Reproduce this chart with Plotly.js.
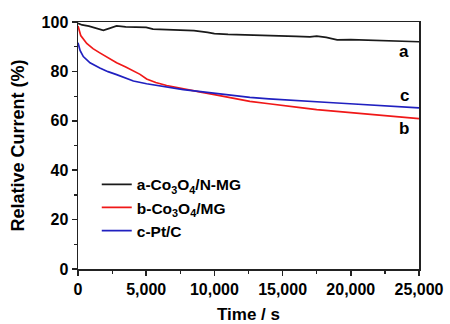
<!DOCTYPE html>
<html><head><meta charset="utf-8">
<script src="https://cdn.plot.ly/plotly-3.0.1.min.js"></script>
<style>body{margin:0;background:#fff}#c{width:450px;height:324px}</style>
</head><body><div id="c"></div>
<script>
const tA = [0,300,800,1300,1860,2300,2830,3500,4200,5000,5500,6500,7500,8500,9500,10000,11000,12000,13000,14000,15000,16000,17000,17500,18200,19000,20000,21000,22000,23000,24000,25000];
const vA = [99.5,98.8,98.3,97.6,96.6,97.4,98.4,98.0,97.9,97.8,97.1,97.0,96.9,96.5,95.8,95.3,95.0,94.9,94.8,94.6,94.5,94.2,94.0,94.3,93.8,92.8,92.9,92.7,92.6,92.5,92.4,92.0];
const tB = [0,200,640,1100,1600,2200,2830,3500,4060,4550,5030,5700,6500,7720,9000,10000,11300,12600,14000,15000,16300,17500,18700,19940,21200,22400,23700,25000];
const vB = [98.4,94.5,91.3,89.2,87.5,85.4,83.5,81.8,80.3,78.8,76.9,75.5,74.3,72.9,71.6,70.6,69.2,67.9,66.9,66.1,65.3,64.5,63.9,63.2,62.6,62.1,61.5,60.9];
const tC = [0,150,390,880,1600,2200,2830,3500,4060,5030,6500,7720,9000,10000,11300,12600,14000,15000,16300,17500,18700,19940,21200,22400,23700,25000];
const vC = [91.6,88.5,86.0,83.5,81.4,79.9,78.7,77.2,76.1,75.0,73.7,72.6,71.8,71.1,70.3,69.5,68.9,68.5,68.1,67.7,67.3,66.9,66.5,66.1,65.7,65.2];
const names = ['a-Co<sub>3</sub>O<sub>4</sub>/N-MG','b-Co<sub>3</sub>O<sub>4</sub>/MG','c-Pt/C'];
const colors = ['#1a1a1a','#f01818','#2020c0'];
const xTicks = [0,5000,10000,15000,20000,25000];
const yTicks = [0,20,40,60,80,100];
const endLabels = ['a','b','c'];
const endLabelY = [88.2,57,70.4];

const traces = [[tA,vA],[tB,vB],[tC,vC]].map((d,i)=>({
  x:d[0], y:d[1], type:'scatter', mode:'lines', name:names[i],
  line:{color:colors[i], width:1.7}
}));
const font = {family:'Liberation Sans, Arial, sans-serif', color:'#000'};
const layout = {
  width:450, height:324,
  margin:{l:78, r:31, t:22, b:55},
  paper_bgcolor:'#fff', plot_bgcolor:'#fff',
  font:{...font, size:14},
  xaxis:{range:[0,25000], tickvals:xTicks, ticktext:xTicks.map(v=>v.toLocaleString('en-US')),
    showgrid:false, zeroline:false, showline:true, linecolor:'#222', linewidth:1.5, mirror:true,
    ticks:'outside', ticklen:5, tickwidth:1.5, tickcolor:'#222',
    minor:{tickvals:[2500,7500,12500,17500,22500], ticks:'outside', ticklen:3, tickwidth:1.2, tickcolor:'#222'},
    tickfont:{...font, size:16, weight:'bold'},
    title:{text:'<b>Time / s</b>', font:{...font,size:17}, standoff:12}},
  yaxis:{range:[0,100], tickvals:yTicks,
    showgrid:false, zeroline:false, showline:true, linecolor:'#222', linewidth:1.5, mirror:true,
    ticks:'outside', ticklen:5, tickwidth:1.5, tickcolor:'#222',
    minor:{tickvals:[10,30,50,70,90], ticks:'outside', ticklen:3, tickwidth:1.2, tickcolor:'#222'},
    tickfont:{...font, size:16, weight:'bold'},
    title:{text:'<b>Relative Current (%)</b>', font:{...font,size:18}, standoff:12}},
  legend:{x:0.055, y:0.41, xanchor:'left', yanchor:'top', bgcolor:'rgba(0,0,0,0)',
    font:{...font,size:15.5, weight:'bold'}, tracegroupgap:0, itemwidth:30},
  showlegend:true,
  annotations: endLabels.map((t,i)=>({x:23900, y:endLabelY[i], xref:'x', yref:'y', text:'<b>'+t+'</b>', showarrow:false,
    font:{...font,size:17}}))
};
Plotly.newPlot('c', traces, layout, {displayModeBar:false, staticPlot:true});
</script></body></html>
